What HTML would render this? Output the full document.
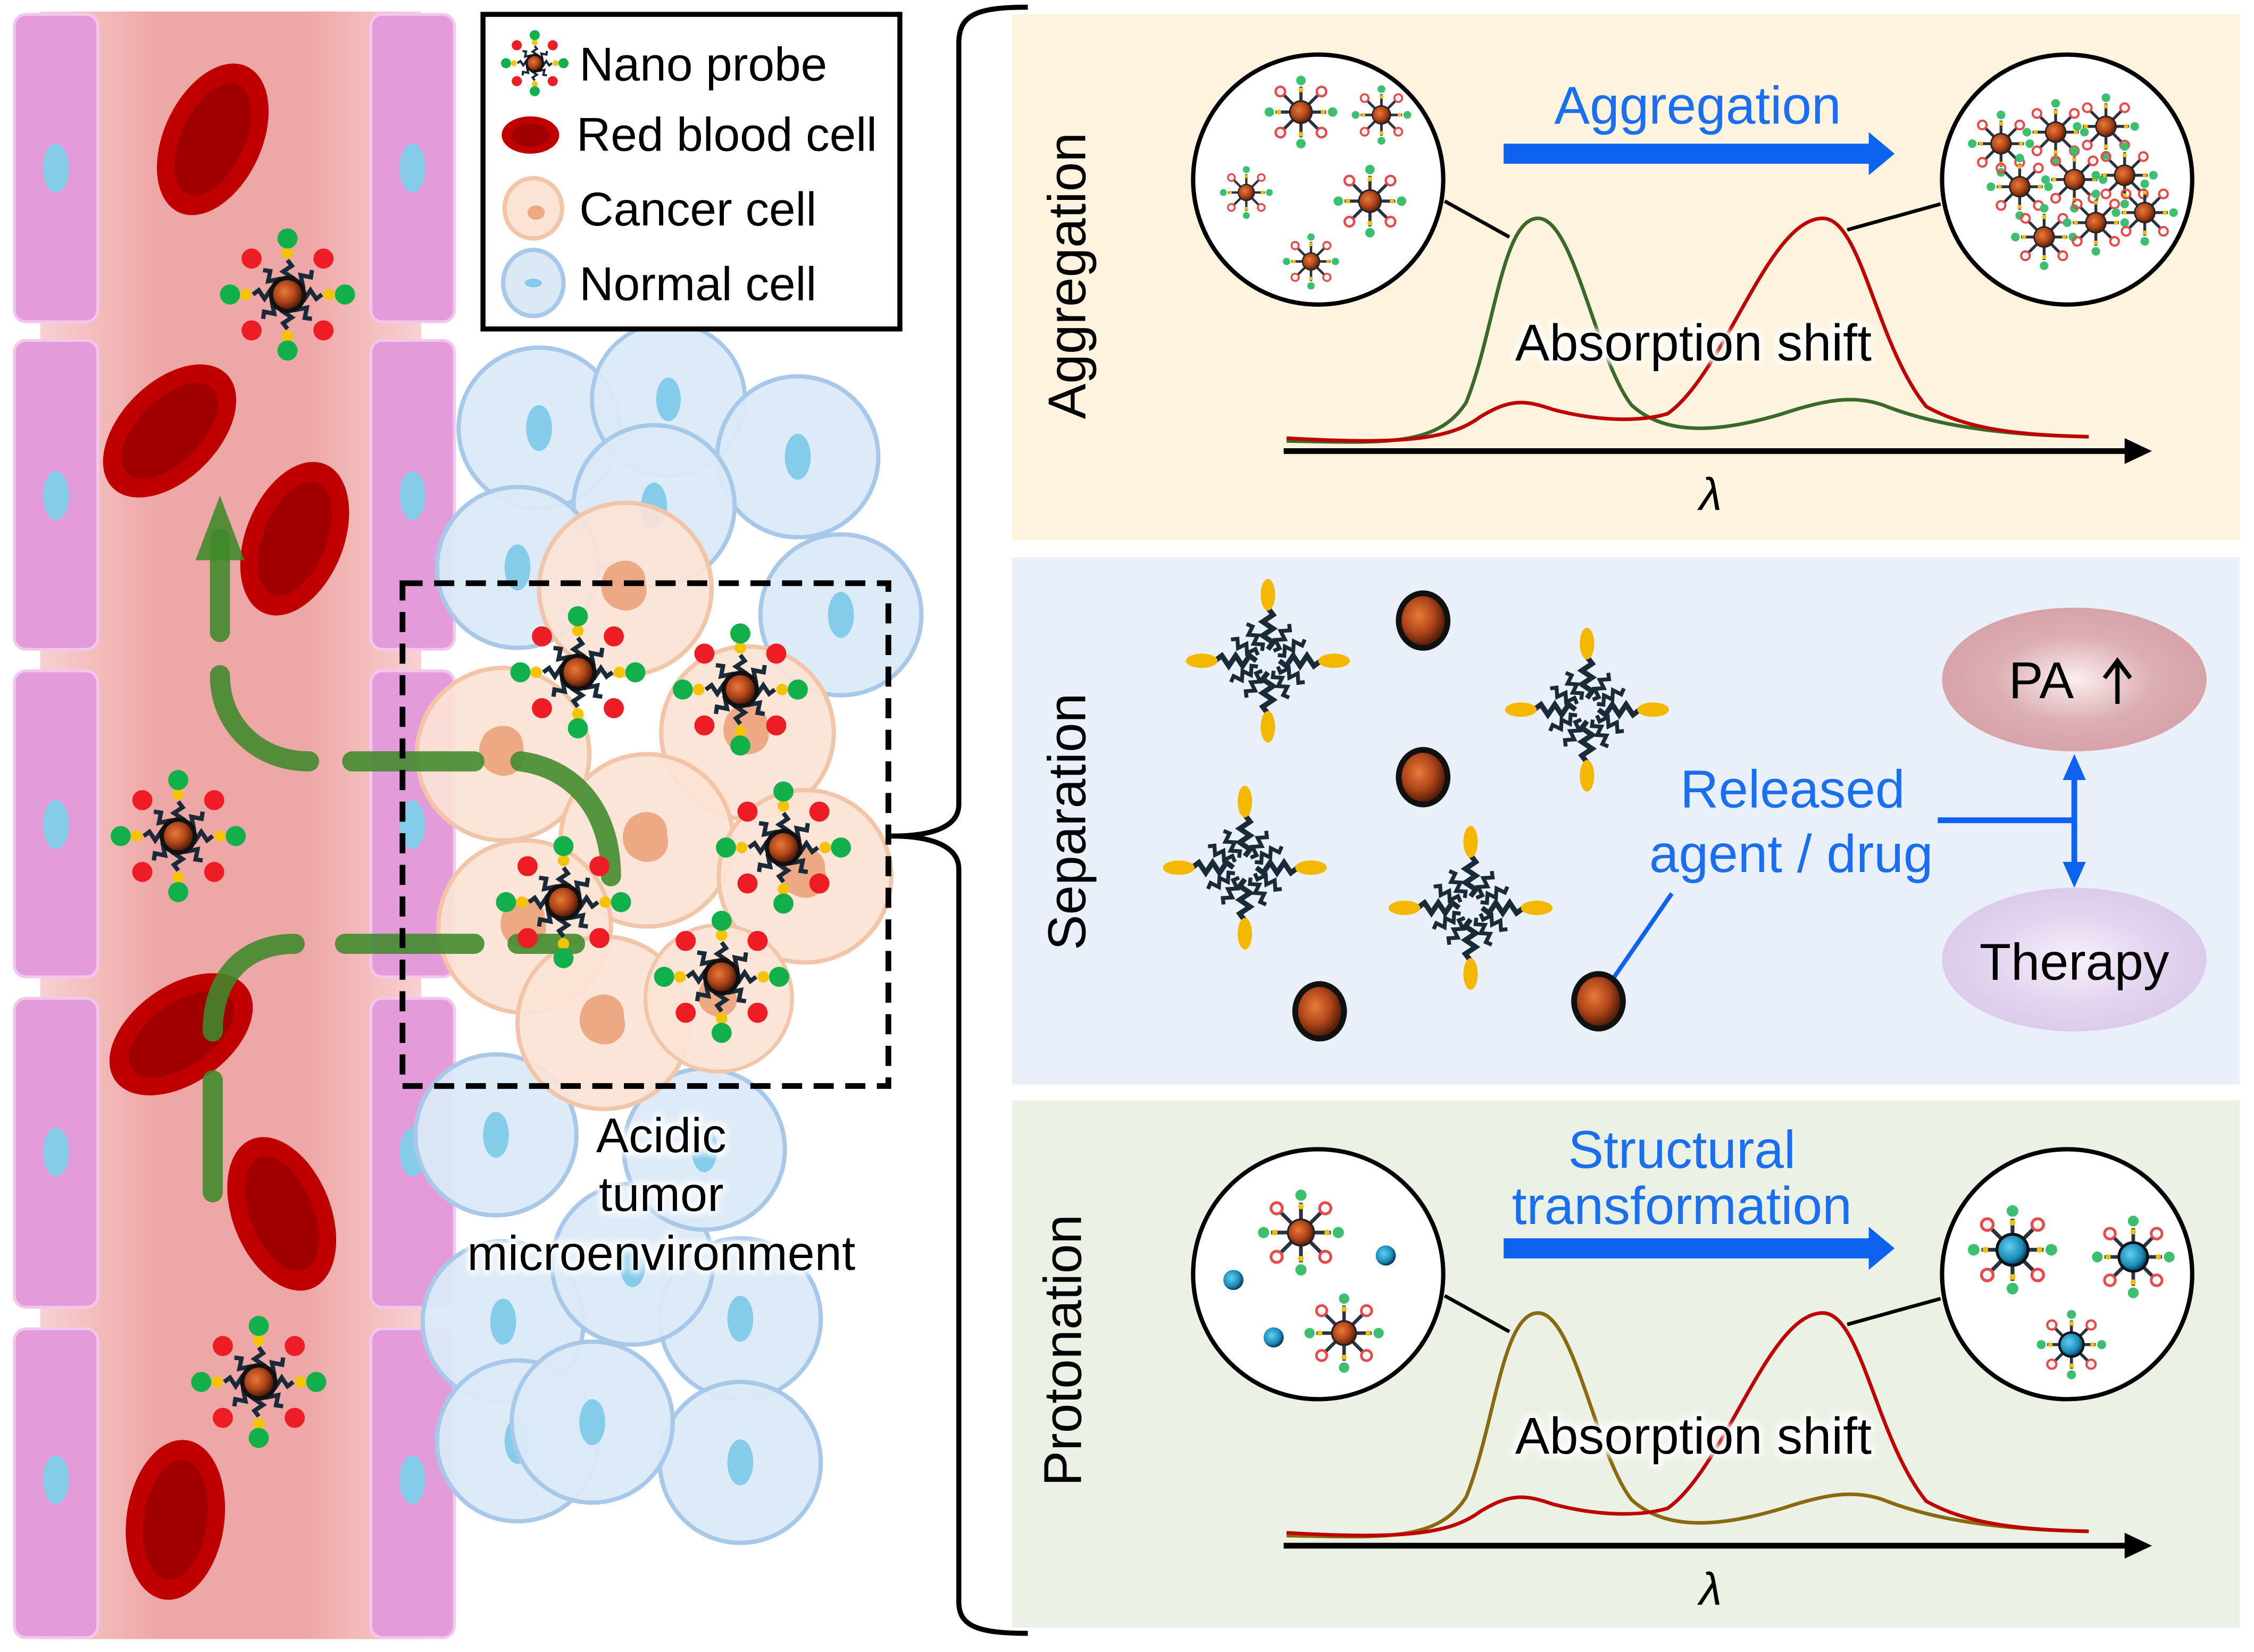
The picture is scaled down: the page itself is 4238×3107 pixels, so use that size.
<!DOCTYPE html>
<html><head><meta charset="utf-8"><style>
html,body{margin:0;padding:0;background:#fff;}
svg{display:block;}
text{font-family:"Liberation Sans",sans-serif;}
</style></head><body>
<svg width="4238" height="3107" viewBox="0 0 1568 1150" preserveAspectRatio="none" xmlns="http://www.w3.org/2000/svg">
<defs>
<linearGradient id="vessel" x1="0" x2="1" y1="0" y2="0">
<stop offset="0" stop-color="#f8d0d0"/><stop offset="0.3" stop-color="#eea7a7"/><stop offset="0.7" stop-color="#eea7a7"/><stop offset="1" stop-color="#f8d0d0"/></linearGradient>
<radialGradient id="ball" cx="0.4" cy="0.4" r="0.6"><stop offset="0" stop-color="#e87a3a"/><stop offset="0.6" stop-color="#b0461a"/><stop offset="1" stop-color="#5a200a"/></radialGradient>
<radialGradient id="pa" cx="0.5" cy="0.5" r="0.5"><stop offset="0" stop-color="#fbeeee"/><stop offset="0.6" stop-color="#dbaeb3"/><stop offset="1" stop-color="#d6a3a9"/></radialGradient>
<radialGradient id="th" cx="0.5" cy="0.5" r="0.5"><stop offset="0" stop-color="#f7f1fb"/><stop offset="0.6" stop-color="#e3d5ef"/><stop offset="1" stop-color="#dccbec"/></radialGradient>
<radialGradient id="blueball" cx="0.4" cy="0.4" r="0.6"><stop offset="0" stop-color="#5fd0f0"/><stop offset="0.7" stop-color="#1a8ab8"/><stop offset="1" stop-color="#0a3a5a"/></radialGradient>
<filter id="glow"><feMorphology operator="dilate" radius="2" in="SourceAlpha" result="d"/><feGaussianBlur in="d" stdDeviation="2" result="b"/><feFlood flood-color="#fff"/><feComposite in2="b" operator="in"/><feMerge><feMergeNode/><feMergeNode in="SourceGraphic"/></feMerge></filter>
<g id="arm"><polyline points="0,0 3,-4 -3,-8 3,-12 -3,-16 3,-20 0,-24" fill="none" stroke="#1b2a38" stroke-width="3"/></g>
<g id="probe">
<use href="#arm"/><use href="#arm" transform="rotate(45)"/><use href="#arm" transform="rotate(90)"/><use href="#arm" transform="rotate(135)"/><use href="#arm" transform="rotate(180)"/><use href="#arm" transform="rotate(225)"/><use href="#arm" transform="rotate(270)"/><use href="#arm" transform="rotate(315)"/>
<circle r="13" fill="#111"/><circle r="10" fill="url(#ball)"/>
<g fill="#f5c400"><circle cx="0" cy="-29" r="4"/><circle cx="0" cy="29" r="4"/><circle cx="-29" cy="0" r="4"/><circle cx="29" cy="0" r="4"/></g>
<g fill="#11b04a"><circle cx="0" cy="-39" r="7"/><circle cx="0" cy="39" r="7"/><circle cx="-40" cy="0" r="7"/><circle cx="40" cy="0" r="7"/></g>
<g fill="#ee1c24"><circle cx="-25" cy="-25" r="7"/><circle cx="25" cy="-25" r="7"/><circle cx="-25" cy="25" r="7"/><circle cx="25" cy="25" r="7"/></g>
</g>
<g id="sprobe">
<g stroke="#2b3340" stroke-width="2"><line x1="-16" y1="0" x2="16" y2="0"/><line x1="0" y1="-16" x2="0" y2="16"/><line x1="-11" y1="-11" x2="11" y2="11"/><line x1="-11" y1="11" x2="11" y2="-11"/></g>
<circle r="7" fill="url(#ball)" stroke="#222" stroke-width="1"/>
<g fill="#3cc070"><circle cx="0" cy="-20" r="3"/><circle cx="0" cy="20" r="3"/><circle cx="-20" cy="0" r="3"/><circle cx="20" cy="0" r="3"/></g>
<g fill="none" stroke="#e84a4a" stroke-width="1.5"><circle cx="-13" cy="-13" r="3"/><circle cx="13" cy="-13" r="3"/><circle cx="-13" cy="13" r="3"/><circle cx="13" cy="13" r="3"/></g>
<g fill="#f0c000"><circle cx="0" cy="-14" r="1.5"/><circle cx="0" cy="14" r="1.5"/><circle cx="-14" cy="0" r="1.5"/><circle cx="14" cy="0" r="1.5"/></g>
</g>
<g id="star">
<use href="#arm" transform="translate(0,-8) scale(1.2)"/><use href="#arm" transform="rotate(90) translate(0,-8) scale(1.2)"/><use href="#arm" transform="rotate(180) translate(0,-8) scale(1.2)"/><use href="#arm" transform="rotate(270) translate(0,-8) scale(1.2)"/>
<use href="#arm" transform="rotate(30) translate(0,-8) scale(0.9)"/><use href="#arm" transform="rotate(-30) translate(0,-8) scale(0.9)"/><use href="#arm" transform="rotate(150) translate(0,-8) scale(0.9)"/><use href="#arm" transform="rotate(210) translate(0,-8) scale(0.9)"/>
<use href="#arm" transform="rotate(60) translate(0,-8) scale(0.9)"/><use href="#arm" transform="rotate(120) translate(0,-8) scale(0.9)"/><use href="#arm" transform="rotate(240) translate(0,-8) scale(0.9)"/><use href="#arm" transform="rotate(300) translate(0,-8) scale(0.9)"/>
<g fill="#f5b800"><ellipse cx="0" cy="-46" rx="5" ry="11"/><ellipse cx="0" cy="46" rx="5" ry="11"/><ellipse cx="-46" cy="0" rx="11" ry="5"/><ellipse cx="46" cy="0" rx="11" ry="5"/></g>
</g>
<g id="drug"><ellipse rx="19" ry="21" fill="#111"/><ellipse rx="15" ry="17" fill="url(#ball)"/></g>
<g id="rbc"><ellipse rx="34" ry="56" fill="#c00000"/><ellipse rx="22" ry="42" fill="#a00000"/></g>
<g id="ncell"><circle r="56" fill="#dbe9f7" stroke="#a8c8ea" stroke-width="3" fill-opacity="0.95"/><ellipse rx="9" ry="16" fill="#85cbea"/></g>
<g id="ccell"><circle r="60" fill="#fbe3d6" stroke="#f2c5a8" stroke-width="3" fill-opacity="0.92"/><path d="M-12,-15 C0,-25 15,-18 14,-4 C18,10 5,18 -5,14 C-18,10 -20,-5 -12,-15Z" fill="#eca983"/></g>
</defs>

<rect x="28" y="8" width="265" height="1133" fill="url(#vessel)"/>
<g fill="#e49bd9" stroke="#f3c6ee" stroke-width="2">
<rect x="10" y="10" width="58" height="214" rx="8"/><rect x="10" y="237" width="58" height="215" rx="8"/><rect x="10" y="467" width="58" height="213" rx="8"/><rect x="10" y="695" width="58" height="215" rx="8"/><rect x="10" y="925" width="58" height="215" rx="8"/>
<rect x="258" y="10" width="58" height="214" rx="8"/><rect x="258" y="237" width="58" height="215" rx="8"/><rect x="258" y="467" width="58" height="213" rx="8"/><rect x="258" y="695" width="58" height="215" rx="8"/><rect x="258" y="925" width="58" height="215" rx="8"/>
</g>
<g fill="#85cbea">
<ellipse cx="39" cy="117" rx="9" ry="17"/><ellipse cx="39" cy="345" rx="9" ry="17"/><ellipse cx="39" cy="574" rx="9" ry="17"/><ellipse cx="39" cy="802" rx="9" ry="17"/><ellipse cx="39" cy="1030" rx="9" ry="17"/>
<ellipse cx="287" cy="117" rx="9" ry="17"/><ellipse cx="287" cy="345" rx="9" ry="17"/><ellipse cx="287" cy="574" rx="9" ry="17"/><ellipse cx="287" cy="802" rx="9" ry="17"/><ellipse cx="287" cy="1030" rx="9" ry="17"/>
</g>
<use href="#rbc" transform="translate(148,97) rotate(25)"/>
<use href="#rbc" transform="translate(118,300) rotate(45)"/>
<use href="#rbc" transform="translate(205,375) rotate(22)"/>
<use href="#rbc" transform="translate(126,720) rotate(55)"/>
<use href="#rbc" transform="translate(196,845) rotate(-22)"/>
<use href="#rbc" transform="translate(122,1058) rotate(8)"/>

<use href="#ncell" transform="translate(375,298)"/>
<use href="#ncell" transform="translate(465,278) scale(0.95)"/>
<use href="#ncell" transform="translate(555,318)"/>
<use href="#ncell" transform="translate(455,352)"/>
<use href="#ncell" transform="translate(360,395)"/>
<use href="#ncell" transform="translate(585,428)"/>
<use href="#ncell" transform="translate(350,920)"/>
<use href="#ncell" transform="translate(515,918)"/>
<use href="#ncell" transform="translate(440,880)"/>
<use href="#ncell" transform="translate(360,1003)"/>
<use href="#ncell" transform="translate(515,1018)"/>
<use href="#ncell" transform="translate(412,990)"/>
<use href="#ncell" transform="translate(345,790)"/>
<use href="#ncell" transform="translate(490,800)"/>
<use href="#ccell" transform="translate(435,410)"/>
<use href="#ccell" transform="translate(350,525)"/>
<use href="#ccell" transform="translate(520,510)"/>
<use href="#ccell" transform="translate(450,585)"/>
<use href="#ccell" transform="translate(365,645)"/>
<use href="#ccell" transform="translate(560,610)"/>
<use href="#ccell" transform="translate(420,712)"/>
<use href="#ccell" transform="translate(500,695) scale(0.85)"/>

<g fill="none" stroke="#3f8a2a" stroke-opacity="0.88" stroke-width="14" stroke-linecap="round">
<line x1="153" y1="440" x2="153" y2="375"/>
<path d="M153,470 C153,505 180,530 215,530"/>
<line x1="245" y1="530" x2="330" y2="530"/>
<path d="M362,530 C400,535 425,565 425,610"/>
<line x1="148" y1="830" x2="148" y2="752"/>
<path d="M148,718 C148,680 170,657 205,657"/>
<line x1="240" y1="657" x2="330" y2="657"/>
<line x1="360" y1="657" x2="400" y2="657"/>
</g>
<polygon points="153,345 136,390 170,390" fill="#3f8a2a" fill-opacity="0.88"/>

<use href="#probe" transform="translate(200,205)"/>
<use href="#probe" transform="translate(124,582)"/>
<use href="#probe" transform="translate(180,962)"/>
<use href="#probe" transform="translate(402,468)"/>
<use href="#probe" transform="translate(515,480)"/>
<use href="#probe" transform="translate(545,590)"/>
<use href="#probe" transform="translate(392,628)"/>
<use href="#probe" transform="translate(502,680)"/>

<rect x="280" y="406" width="338" height="350" fill="none" stroke="#000" stroke-width="4" stroke-dasharray="14,8"/>
<g font-size="34" text-anchor="middle" fill="#000" filter="url(#glow)">
<text x="460" y="802">Acidic</text><text x="460" y="843">tumor</text><text x="460" y="884">microenvironment</text></g>

<rect x="336" y="10" width="290" height="219" fill="#fff" stroke="#000" stroke-width="3.5"/>
<use href="#probe" transform="translate(372,44) scale(0.5)"/>
<g transform="translate(369,94)"><ellipse rx="20" ry="13" fill="#c00000"/><ellipse rx="13" ry="8" fill="#a00000"/></g>
<g transform="translate(371,145)"><ellipse rx="20" ry="21" fill="#fbe3d6" stroke="#f2c5a8" stroke-width="3"/><ellipse cx="2" cy="3" rx="6" ry="5" fill="#eca983"/></g>
<g transform="translate(371,197)"><ellipse rx="21" ry="23" fill="#dbe9f7" stroke="#a8c8ea" stroke-width="3"/><ellipse rx="6" ry="3" fill="#85cbea"/></g>
<g font-size="33" fill="#000"><text x="403" y="56">Nano probe</text><text x="401" y="105">Red blood cell</text><text x="403" y="157">Cancer cell</text><text x="403" y="209">Normal cell</text></g>

<path d="M715,5 C680,5 667,10 667,30 L667,560 C667,575 650,582 620,582 C650,582 667,590 667,605 L667,1115 C667,1132 680,1137 715,1137" fill="none" stroke="#000" stroke-width="3.5"/>

<rect x="704" y="10" width="854" height="366" fill="#fdf3de"/>
<rect x="704" y="388" width="854" height="367" fill="#e9f0f9"/>
<rect x="704" y="766" width="854" height="367" fill="#ebf1e4"/>
<g font-size="37" fill="#000" text-anchor="middle">
<text transform="translate(755,192) rotate(-90)">Aggregation</text>
<text transform="translate(755,572) rotate(-90)">Separation</text>
<text transform="translate(752,940) rotate(-90)">Protonation</text>
</g>

<line x1="1005" y1="140" x2="1050" y2="165" stroke="#000" stroke-width="2.5"/>
<line x1="1350" y1="142" x2="1285" y2="160" stroke="#000" stroke-width="2.5"/>
<path d="M895,307 C960,308 1000,312 1020,280 C1040,230 1045,152 1070,152 C1095,152 1110,250 1135,282 C1160,305 1200,300 1240,288 C1270,278 1290,275 1310,282 C1350,298 1400,303 1453,304" fill="none" stroke="#3a6a2a" stroke-width="2.5"/>
<path d="M895,305 C980,310 1010,305 1030,290 C1050,278 1060,278 1080,285 C1110,293 1140,294 1160,288 C1200,260 1230,152 1268,152 C1295,152 1305,240 1340,283 C1370,300 1410,303 1453,304" fill="none" stroke="#c00000" stroke-width="2.5"/>
<line x1="893" y1="314" x2="1480" y2="314" stroke="#000" stroke-width="4"/>
<polygon points="1497,314 1478,305 1478,323" fill="#000"/>
<text x="1190" y="355" font-size="32" font-family="Liberation Serif" font-style="italic" text-anchor="middle">λ</text>
<text x="1178" y="251" font-size="36" text-anchor="middle" filter="url(#glow)">Absorption shift</text>
<circle cx="917" cy="125" r="87" fill="#fff" stroke="#000" stroke-width="3"/>
<circle cx="1438" cy="125" r="87" fill="#fff" stroke="#000" stroke-width="3"/>
<use href="#sprobe" transform="translate(905,78) scale(1.1)"/>
<use href="#sprobe" transform="translate(961,80) scale(0.9)"/>
<use href="#sprobe" transform="translate(867,134) scale(0.8)"/>
<use href="#sprobe" transform="translate(953,140) scale(1.1)"/>
<use href="#sprobe" transform="translate(912,182) scale(0.85)"/>
<g>
<use href="#sprobe" transform="translate(1392,100)"/><use href="#sprobe" transform="translate(1430,92)"/><use href="#sprobe" transform="translate(1465,88)"/>
<use href="#sprobe" transform="translate(1405,130)"/><use href="#sprobe" transform="translate(1443,125)"/><use href="#sprobe" transform="translate(1478,122)"/>
<use href="#sprobe" transform="translate(1422,165)"/><use href="#sprobe" transform="translate(1458,155)"/><use href="#sprobe" transform="translate(1492,148)"/>
</g>
<rect x="1046" y="100" width="256" height="14" fill="#0d63f0"/>
<polygon points="1318,107 1300,92 1300,122" fill="#0d63f0"/>
<text x="1181" y="86" font-size="37" fill="#1a6ef2" text-anchor="middle">Aggregation</text>

<use href="#star" transform="translate(882,460)"/>
<use href="#star" transform="translate(1104,494)"/>
<use href="#star" transform="translate(866,604)"/>
<use href="#star" transform="translate(1023,632)"/>
<use href="#drug" transform="translate(990,432)"/>
<use href="#drug" transform="translate(990,541)"/>
<use href="#drug" transform="translate(918,704)"/>
<use href="#drug" transform="translate(1112,697)"/>
<line x1="1123" y1="680" x2="1163" y2="622" stroke="#0d63f0" stroke-width="3"/>
<g font-size="37" fill="#1a6ef2" text-anchor="middle"><text x="1247" y="562">Released</text><text x="1246" y="607">agent / drug</text></g>
<ellipse cx="1443" cy="473" rx="92" ry="50" fill="url(#pa)"/>
<ellipse cx="1443" cy="668" rx="92" ry="50" fill="url(#th)"/>
<text x="1420" y="486" font-size="36" text-anchor="middle">PA</text>
<g stroke="#000" stroke-width="3" fill="none"><line x1="1473" y1="460" x2="1473" y2="490"/><polyline points="1464,472 1473,460 1482,472"/></g>
<text x="1443" y="682" font-size="36" text-anchor="middle">Therapy</text>
<g stroke="#0d63f0" stroke-width="4" fill="none"><line x1="1348" y1="571" x2="1443" y2="571"/><line x1="1443" y1="540" x2="1443" y2="605"/></g>
<polygon points="1443,525 1435,543 1451,543" fill="#0d63f0"/>
<polygon points="1443,618 1435,600 1451,600" fill="#0d63f0"/>

<line x1="1005" y1="902" x2="1050" y2="927" stroke="#000" stroke-width="2.5"/>
<line x1="1350" y1="904" x2="1285" y2="922" stroke="#000" stroke-width="2.5"/>
<path d="M895,1069 C960,1070 1000,1074 1020,1042 C1040,992 1045,914 1070,914 C1095,914 1110,1012 1135,1044 C1160,1067 1200,1062 1240,1050 C1270,1040 1290,1037 1310,1044 C1350,1060 1400,1065 1453,1066" fill="none" stroke="#8a6a10" stroke-width="2.5"/>
<path d="M895,1067 C980,1072 1010,1067 1030,1052 C1050,1040 1060,1040 1080,1047 C1110,1055 1140,1056 1160,1050 C1200,1022 1230,914 1268,914 C1295,914 1305,1002 1340,1045 C1370,1062 1410,1065 1453,1066" fill="none" stroke="#c00000" stroke-width="2.5"/>
<line x1="893" y1="1076" x2="1480" y2="1076" stroke="#000" stroke-width="4"/>
<polygon points="1497,1076 1478,1067 1478,1085" fill="#000"/>
<text x="1190" y="1117" font-size="32" font-family="Liberation Serif" font-style="italic" text-anchor="middle">λ</text>
<text x="1178" y="1012" font-size="36" text-anchor="middle" filter="url(#glow)">Absorption shift</text>
<circle cx="917" cy="887" r="87" fill="#fff" stroke="#000" stroke-width="3"/>
<circle cx="1438" cy="887" r="87" fill="#fff" stroke="#000" stroke-width="3"/>
<use href="#sprobe" transform="translate(905,858) scale(1.3)"/>
<use href="#sprobe" transform="translate(935,928) scale(1.2)"/>
<circle cx="858" cy="891" r="7" fill="url(#blueball)"/>
<circle cx="964" cy="874" r="7" fill="url(#blueball)"/>
<circle cx="886" cy="931" r="7" fill="url(#blueball)"/>
<g transform="translate(1400,870) scale(1.35)"><use href="#sprobe"/><circle r="8" fill="url(#blueball)" stroke="#111" stroke-width="1.5"/></g>
<g transform="translate(1484,875) scale(1.25)"><use href="#sprobe"/><circle r="8" fill="url(#blueball)" stroke="#111" stroke-width="1.5"/></g>
<g transform="translate(1441,936) scale(1.05)"><use href="#sprobe"/><circle r="8" fill="url(#blueball)" stroke="#111" stroke-width="1.5"/></g>
<rect x="1046" y="862" width="256" height="14" fill="#0d63f0"/>
<polygon points="1318,869 1300,854 1300,884" fill="#0d63f0"/>
<g font-size="37" fill="#1a6ef2" text-anchor="middle"><text x="1170" y="813">Structural</text><text x="1170" y="852">transformation</text></g>
</svg>
</body></html>
